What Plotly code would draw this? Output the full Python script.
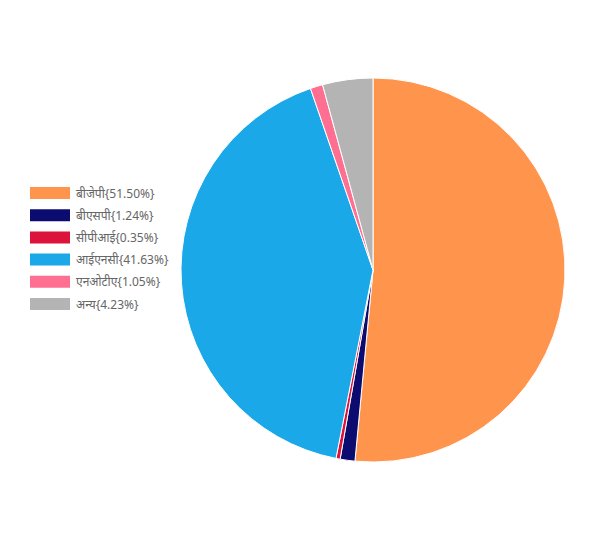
import plotly.graph_objects as go

parties = ["बीजेपी", "बीएसपी", "सीपीआई", "आईएनसी", "एनओटीए", "अन्य"]
shares = [51.50, 1.24, 0.35, 41.63, 1.05, 4.23]
colors = ["#FF944D", "#0C0C70", "#DC143C", "#1BA8E8", "#FF6F91", "#B4B4B4"]

W, H = 607, 534
# the page adds an 8px body margin, so positions are given relative to that
OX, OY = 8, 8
cx, cy, r = 373 - OX, 270 - OY, 192

fig = go.Figure()
fig.add_trace(go.Pie(
    labels=parties,
    values=shares,
    sort=False,
    direction="clockwise",
    rotation=0,
    textinfo="none",
    marker=dict(colors=colors, line=dict(color="white", width=1)),
    domain=dict(x=[(cx - r) / W, (cx + r) / W], y=[1 - (cy + r) / H, 1 - (cy - r) / H]),
    showlegend=False,
    hovertemplate="%{label}: %{value}%<extra></extra>",
))

# legend drawn by hand so the swatches can be wide rectangles
shapes = []
annotations = []
y0 = 193 - OY
for i, (p, s, c) in enumerate(zip(parties, shares, colors)):
    yc = y0 + i * 22.2
    shapes.append(dict(type="rect", xref="paper", yref="paper",
                       x0=(30 - OX) / W, x1=(70 - OX) / W,
                       y0=1 - (yc + 6) / H, y1=1 - (yc - 6) / H,
                       fillcolor=c, line=dict(width=0)))
    annotations.append(dict(xref="paper", yref="paper", x=(74 - OX) / W, y=1 - yc / H,
                            xanchor="left", yanchor="middle", showarrow=False,
                            text=f"{p}{{{s:.2f}%}}",
                            font=dict(size=12, color="#666666")))

fig.update_layout(
    width=W, height=H,
    margin=dict(l=0, r=0, t=0, b=0),
    paper_bgcolor="white",
    shapes=shapes,
    annotations=annotations,
    font=dict(family="Noto Sans, DejaVu Sans, sans-serif"),
)

fig.write_html("out.html")
